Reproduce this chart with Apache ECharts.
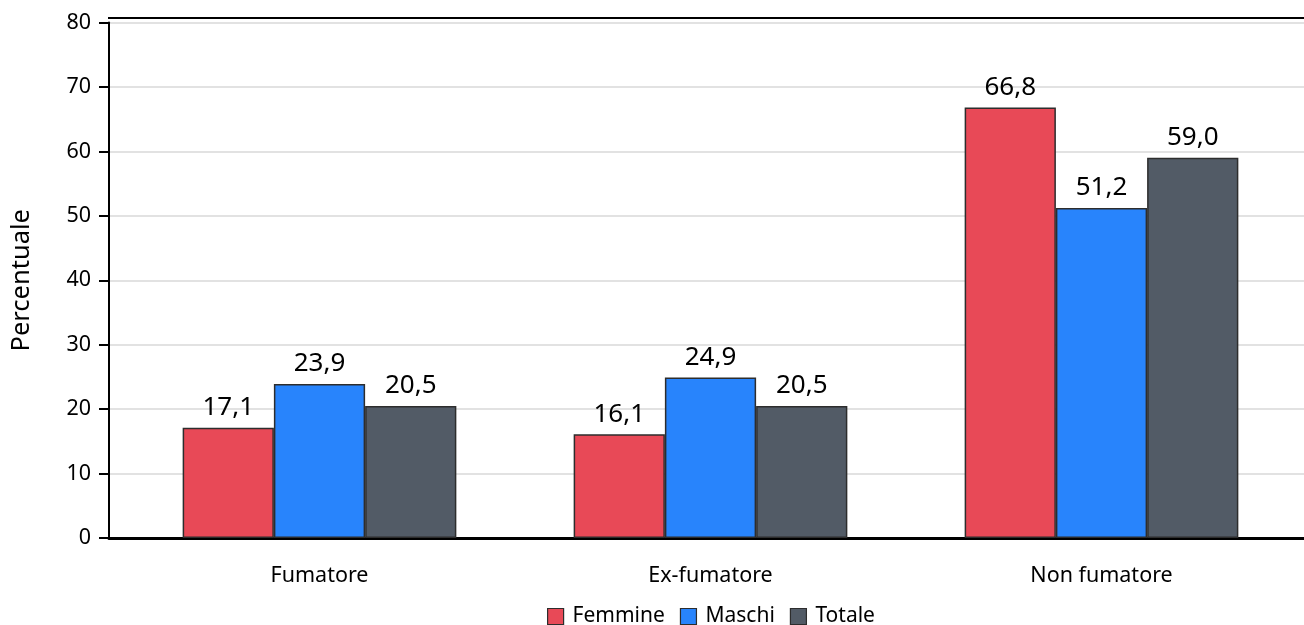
<!DOCTYPE html>
<html>
<head>
<meta charset="utf-8">
<script src="https://cdn.jsdelivr.net/npm/echarts@6/dist/echarts.min.js"></script>
<style>
  html, body { margin: 0; padding: 0; background: #fff; }
  #chart { width: 1304px; height: 625px; }
</style>
</head>
<body>
<div id="chart"></div>
<script>
// Abitudine al fumo per sesso (valori percentuali)
const categories = ['Fumatore', 'Ex-fumatore', 'Non fumatore'];
const femmine = [17.1, 16.1, 66.8];
const maschi = [23.9, 24.9, 51.2];
const totale = [20.5, 20.5, 59.0];
const yTicks = [0, 10, 20, 30, 40, 50, 60, 70, 80];

const FONT = '"Noto Sans", "Open Sans", sans-serif';
const TOP = 22.5, BOTTOM = 87;

const fmt = v => v.toFixed(1).replace('.', ',');

function barSeries(name, data, color) {
  return {
    name: name,
    type: 'bar',
    xAxisIndex: 1,
    yAxisIndex: 1,
    data: data,
    barGap: '0%',
    barCategoryGap: '30%',
    itemStyle: { color: color, borderColor: '#2d2d2d', borderWidth: 1.5 },
    label: {
      show: true,
      position: 'top',
      distance: 7,
      color: '#000',
      fontFamily: FONT,
      fontSize: 26,
      formatter: p => fmt(p.value)
    }
  };
}

const chart = echarts.init(document.getElementById('chart'), null, { renderer: 'canvas' });
chart.setOption({
  animation: false,
  backgroundColor: '#fff',
  grid: [
    { left: 109, right: 0, top: TOP, bottom: BOTTOM },
    { left: 124, right: 7, top: TOP, bottom: BOTTOM }
  ],
  legend: {
    top: 606,
    left: 547,
    padding: 0,
    icon: 'rect',
    itemWidth: 16,
    itemHeight: 16,
    itemGap: 15,
    itemStyle: { borderColor: '#2d2d2d', borderWidth: 1.2 },
    textStyle: { fontFamily: FONT, fontSize: 21, lineHeight: 18, color: '#000', padding: [0, 0, 0, 4] },
    data: ['Femmine', 'Maschi', 'Totale']
  },
  xAxis: [
    {
      gridIndex: 0, type: 'value', min: 0, max: 1,
      axisLine: { show: true, onZero: false, lineStyle: { color: '#000', width: 3 } },
      axisTick: { show: false }, axisLabel: { show: false }, splitLine: { show: false }
    },
    {
      gridIndex: 1, type: 'category', data: categories,
      axisLine: { show: false }, axisTick: { show: false },
      axisLabel: { margin: 27, color: '#000', fontFamily: FONT, fontSize: 21.5 }
    }
  ],
  yAxis: [
    {
      gridIndex: 0, type: 'value', min: yTicks[0], max: yTicks[yTicks.length - 1], interval: 10,
      name: 'Percentuale', nameLocation: 'middle', nameGap: 74, nameRotate: 90,
      nameTextStyle: { color: '#000', fontFamily: FONT, fontSize: 25.5 },
      axisLine: { show: true, lineStyle: { color: '#000', width: 2 } },
      axisTick: { show: true, length: 10, lineStyle: { color: '#000', width: 2 } },
      axisLabel: { margin: 18, color: '#000', fontFamily: FONT, fontSize: 21.5 },
      splitLine: { show: true, lineStyle: { color: '#e2e2e2', width: 2 } }
    },
    {
      gridIndex: 1, type: 'value', min: yTicks[0], max: yTicks[yTicks.length - 1], interval: 10,
      axisLine: { show: false }, axisTick: { show: false },
      axisLabel: { show: false }, splitLine: { show: false }
    }
  ],
  graphic: [
    {
      type: 'line',
      shape: { x1: 108, y1: 18, x2: 1304, y2: 18 },
      style: { stroke: '#000', lineWidth: 2 }
    }
  ],
  series: [
    barSeries('Femmine', femmine, '#e84957'),
    barSeries('Maschi', maschi, '#2884fc'),
    barSeries('Totale', totale, '#525b66')
  ]
});
</script>
</body>
</html>
